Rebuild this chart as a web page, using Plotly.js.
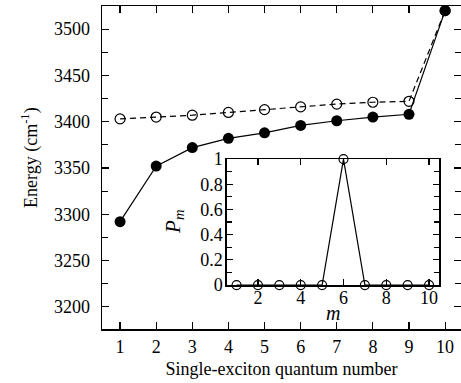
<!DOCTYPE html>
<html>
<head>
<meta charset="utf-8">
<script src="https://cdn.plot.ly/plotly-3.0.1.min.js"></script>
<style>html,body{margin:0;padding:0;background:#fff;}#plot{width:461px;height:383px;}</style>
</head>
<body>
<div id="plot"></div>
<script>
// Main panel data
const quantumNumber = [1, 2, 3, 4, 5, 6, 7, 8, 9, 10];
const energyFilled = [3292, 3352, 3372, 3382, 3388, 3396, 3401, 3405, 3408, 3520];
const energyOpen   = [3403, 3405, 3407, 3410, 3413, 3416, 3419, 3421, 3422, 3520];
// Inset data
const insetM  = [1, 2, 3, 4, 5, 6, 7, 8, 9, 10];
const insetPm = [0, 0, 0, 0, 0, 1, 0, 0, 0, 0];
// Tick labels
const mainXTicks = [1, 2, 3, 4, 5, 6, 7, 8, 9, 10];
const mainYTicks = [3200, 3250, 3300, 3350, 3400, 3450, 3500];
const insetXTicks = [2, 4, 6, 8, 10];
const insetYTicks = [0, 0.2, 0.4, 0.6, 0.8, 1];
const insetYTickText = ['0', '0.2', '0.4', '0.6', '0.8', '1'];

const FONT = "'Liberation Serif', 'Times New Roman', serif";

const traces = [
  {
    x: quantumNumber, y: energyOpen, type: 'scatter', mode: 'lines+markers',
    line: {color: '#000', width: 1.2, dash: '6px,4px'},
    marker: {symbol: 'circle-open', size: 10, color: '#000', line: {width: 1.2, color: '#000'}},
    cliponaxis: false, xaxis: 'x', yaxis: 'y', showlegend: false
  },
  {
    x: quantumNumber, y: energyFilled, type: 'scatter', mode: 'lines+markers',
    line: {color: '#000', width: 1.2},
    marker: {symbol: 'circle', size: 11, color: '#000'},
    cliponaxis: false, xaxis: 'x', yaxis: 'y', showlegend: false
  },
  {
    x: insetM, y: insetPm, type: 'scatter', mode: 'lines+markers',
    line: {color: '#000', width: 1.2},
    marker: {symbol: 'circle-open', size: 9, color: '#000', line: {width: 1.2, color: '#000'}},
    cliponaxis: false, xaxis: 'x2', yaxis: 'y2', showlegend: false
  }
];

const axisCommon = {
  showline: true, linecolor: '#000', linewidth: 1.5, mirror: 'ticks',
  ticks: 'inside', tickcolor: '#000', tickwidth: 1.2,
  showgrid: false, zeroline: false, tickfont: {family: FONT, size: 18, color: '#000'}
};

const layout = {
  width: 461, height: 383,
  margin: {l: 102, r: 0, t: 6, b: 54},
  paper_bgcolor: '#fff', plot_bgcolor: 'rgba(0,0,0,0)',
  font: {family: FONT, color: '#000'},
  xaxis: Object.assign({}, axisCommon, {
    domain: [0, 1], range: [0.5, 10.44], tickmode: 'array', tickvals: mainXTicks,
    ticklen: 7, ticklabelstandoff: 1,
    title: {text: 'Single-exciton quantum number', font: {family: FONT, size: 18, color: '#000'}, standoff: 6}
  }),
  yaxis: Object.assign({}, axisCommon, {
    domain: [0, 1], range: [3176, 3525], tickmode: 'array', tickvals: mainYTicks,
    ticklen: 7, ticklabelstandoff: 7,
    minor: {dtick: 25, tick0: 3200, ticks: 'inside', ticklen: 6, tickcolor: '#000', tickwidth: 1.2}
  }),
  xaxis2: Object.assign({}, axisCommon, {
    domain: [0.348, 0.939], anchor: 'y2', range: [0.55, 10.47], tickmode: 'array', tickvals: insetXTicks,
    ticklen: 6, ticklabelstandoff: -4, tickfont: {family: FONT, size: 18, color: '#000'}
  }),
  yaxis2: Object.assign({}, axisCommon, {
    domain: [0.136, 0.526], anchor: 'x2', range: [0, 1], tickmode: 'array', tickvals: insetYTicks, ticktext: insetYTickText,
    ticklen: 6, ticklabelstandoff: -1, tickfont: {family: FONT, size: 18, color: '#000'},
    minor: {dtick: 0.1, tick0: 0, ticks: 'inside', ticklen: 5, tickcolor: '#000', tickwidth: 1.2}
  }),
  annotations: [
    {text: 'Energy (cm<sup>-1</sup>)', xref: 'paper', yref: 'paper', x: -0.2, y: 0.53,
     xanchor: 'center', yanchor: 'middle', textangle: -90, showarrow: false,
     font: {family: FONT, size: 18, color: '#000'}},
    {text: '<i>m</i>', xref: 'paper', yref: 'paper', x: 0.643, y: 0.05,
     xanchor: 'center', yanchor: 'middle', showarrow: false,
     font: {family: FONT, size: 20, color: '#000'}},
    {text: '<i>P</i><sub><i>m</i></sub>', xref: 'paper', yref: 'paper', x: 0.2, y: 0.331,
     xanchor: 'center', yanchor: 'middle', textangle: -90, showarrow: false,
     font: {family: FONT, size: 21, color: '#000'}}
  ]
};

Plotly.newPlot('plot', traces, layout, {displayModeBar: false, staticPlot: true});
</script>
</body>
</html>
